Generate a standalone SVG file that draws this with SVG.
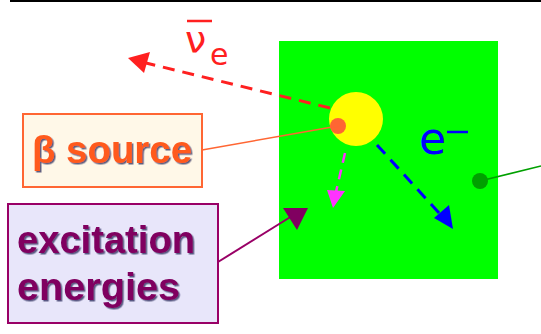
<svg xmlns="http://www.w3.org/2000/svg" width="541" height="334" viewBox="0 0 541 334">
<style>
.lbl{font-family:"Liberation Sans",Arial,sans-serif;font-weight:bold;font-size:38px}
.sym{font-family:"DejaVu Sans",sans-serif}
</style>
<defs>
<filter id="sh" x="-10%" y="-10%" width="120%" height="130%">
<feDropShadow dx="1.5" dy="1.5" stdDeviation="0.6" flood-color="#1a1a50" flood-opacity="0.7"/>
</filter>
</defs>
<rect width="541" height="334" fill="#fff"/>
<line x1="10" y1="1" x2="541" y2="1" stroke="#000" stroke-width="2"/>
<g id="detector">
<rect x="279" y="41" width="219" height="238" fill="#00ff00"/>
</g>
<g id="source">
<circle cx="356" cy="119" r="27" fill="#ffff00"/>
<circle cx="338" cy="126" r="8" fill="#ff6633"/>
</g>
<g id="detectorpoint">
<circle cx="480" cy="181" r="8" fill="#00a000"/>
</g>
<g id="connectors">
<line x1="330" y1="108" x2="146" y2="63" stroke="#ff2020" stroke-width="3" stroke-dasharray="12,8"/>
<polygon points="128,58 150,52 144,73" fill="#ff2020"/>
<line x1="377" y1="145" x2="440" y2="214" stroke="#0000ff" stroke-width="3" stroke-dasharray="12,8"/>
<polygon points="453,229 434,218 449,205" fill="#0000ff"/>
<line x1="345" y1="153" x2="336" y2="192" stroke="#ff33ff" stroke-width="2.5" stroke-dasharray="10,7"/>
<polygon points="333,208 327,190 345,191" fill="#ff33ff"/>
<line x1="202" y1="150" x2="338" y2="126" stroke="#ff6633" stroke-width="1.5"/>
<line x1="218" y1="262" x2="292" y2="216" stroke="#990066" stroke-width="2"/>
<polygon points="283,208 308,208 297,230" fill="#800060"/>
<line x1="480" y1="181" x2="541" y2="166" stroke="#00a000" stroke-width="1.5"/>
</g>
<g id="nu-label">
<text class="sym" x="185" y="53" font-size="38" fill="#ff2020">ν</text>
<text class="sym" x="210" y="65" font-size="30" fill="#ff2020">e</text>
<line x1="187" y1="21" x2="212" y2="21" stroke="#ff2020" stroke-width="2.5"/>
</g>
<g id="e-label">
<text class="sym" x="419" y="154" font-size="44" fill="#0000ff">e</text>
<line x1="447" y1="132" x2="468" y2="132" stroke="#0000ff" stroke-width="2.5"/>
</g>
<g id="beta-source">
<rect x="23" y="114" width="179" height="73" fill="#fff8e8" stroke="#ff6633" stroke-width="2"/>
<text class="lbl" x="32" y="163" fill="#ff5a1e" filter="url(#sh)" textLength="160" lengthAdjust="spacingAndGlyphs">β source</text>
</g>
<g id="excitation">
<rect x="8" y="204" width="210" height="119" fill="#e8e6fa" stroke="#990066" stroke-width="2"/>
<text class="lbl" x="17" y="253" fill="#800060" filter="url(#sh)" textLength="178" lengthAdjust="spacingAndGlyphs">excitation</text>
<text class="lbl" x="17" y="300" fill="#800060" filter="url(#sh)" textLength="163" lengthAdjust="spacingAndGlyphs">energies</text>
</g>
</svg>
